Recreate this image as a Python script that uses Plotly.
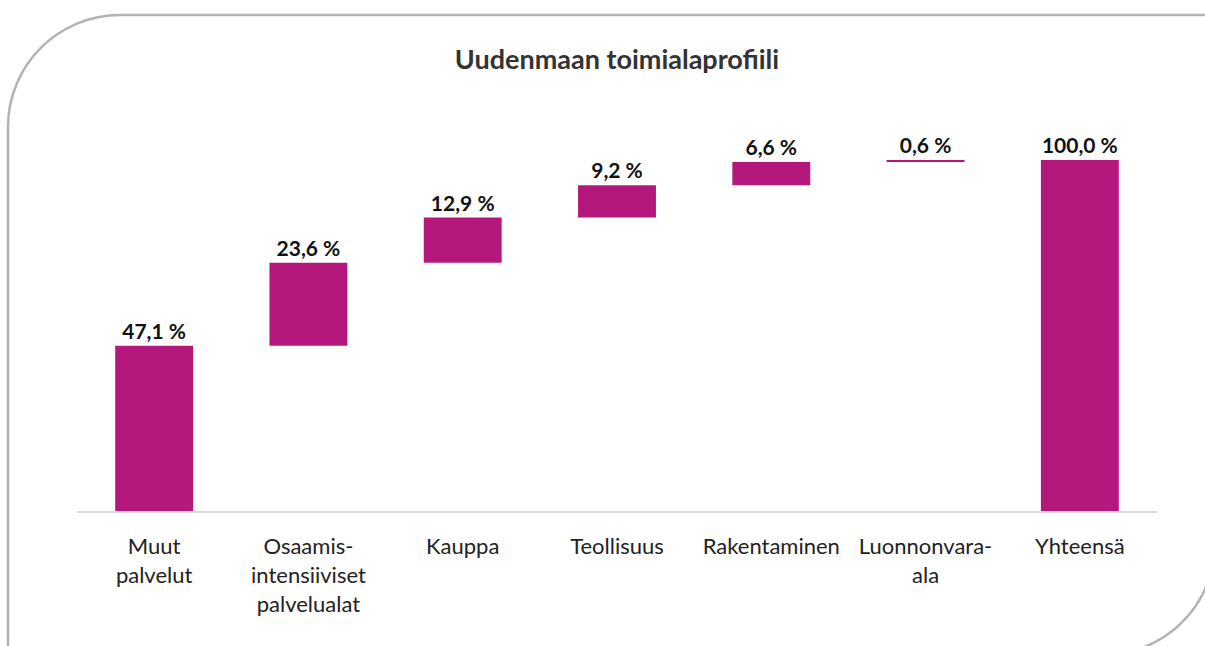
import plotly.graph_objects as go

categories = ["Muut<br>palvelut", "Osaamis-<br>intensiiviset<br>palvelualat", "Kauppa",
              "Teollisuus", "Rakentaminen", "Luonnonvara-<br>ala", "Yhteensä"]
values = [47.1, 23.6, 12.9, 9.2, 6.6, 0.6, 100.0]
measures = ["relative"] * 6 + ["total"]
labels = [f"{v:.1f}".replace(".", ",") + " %" for v in values]

W, H = 1205, 646
ML, MR, MT, MB = 77, 48, 60, 135
PW, PH = W - ML - MR, H - MT - MB
BASE = H - MB
Y100 = 160  # pixel of 100 %
ymax = 100 * PH / (BASE - Y100)

COLOR = "#B4187C"
FONT = "Lato"

fig = go.Figure(go.Waterfall(
    x=categories, y=values, measure=measures,
    text=labels, textposition="outside",
    textfont=dict(family=FONT, size=21, color="#111111", weight="bold"),
    increasing=dict(marker=dict(color=COLOR)),
    decreasing=dict(marker=dict(color=COLOR)),
    totals=dict(marker=dict(color=COLOR)),
    connector=dict(visible=False),
    cliponaxis=False, hoverinfo="skip",
))

def px(x):
    return (x - ML) / PW

def py(y):
    return (BASE - y) / PH

k = 0.5523
R = 112
L, T, Rt, B = 8, 15, 1215, 655
pts = [
    ("M", [(L, B + 20)]),
    ("L", [(L, T + R)]),
    ("C", [(L, T + R - R * k), (L + R - R * k, T), (L + R, T)]),
    ("L", [(Rt + 20, T)]),
    ("M", [(Rt, T - 20)]),
    ("L", [(Rt, B - R)]),
    ("C", [(Rt, B - R + R * k), (Rt - R + R * k, B), (Rt - R, B)]),
    ("L", [(L - 20, B)]),
]
path = " ".join(cmd + " " + " ".join(f"{px(a):.5f},{py(b):.5f}" for a, b in p) for cmd, p in pts)

fig.update_layout(
    width=W, height=H,
    margin=dict(l=ML, r=MR, t=MT, b=MB),
    plot_bgcolor="white", paper_bgcolor="white",
    showlegend=False,
    waterfallgap=0.495,
    title=dict(text="Uudenmaan toimialaprofiili", x=0.5, xref="paper", xanchor="center",
               y=1 - 60 / H, yref="container", yanchor="middle",
               font=dict(family=FONT, size=27, color="#333333", weight="bold")),
    xaxis=dict(showline=True, linecolor="#d9d9d9", linewidth=2, showgrid=False,
               ticks="outside", ticklen=15, tickcolor="rgba(0,0,0,0)",
               tickfont=dict(family=FONT, size=22, color="#222222"), range=[-0.5, 6.5]),
    yaxis=dict(visible=False, range=[0, ymax], showgrid=False, zeroline=False),
    shapes=[dict(type="path", xref="paper", yref="paper", path=path,
                 line=dict(color="#b3b3b3", width=2.5))],
)

fig.write_html("out.html", config={"displayModeBar": False},
               post_script="document.body.style.margin='0';")
